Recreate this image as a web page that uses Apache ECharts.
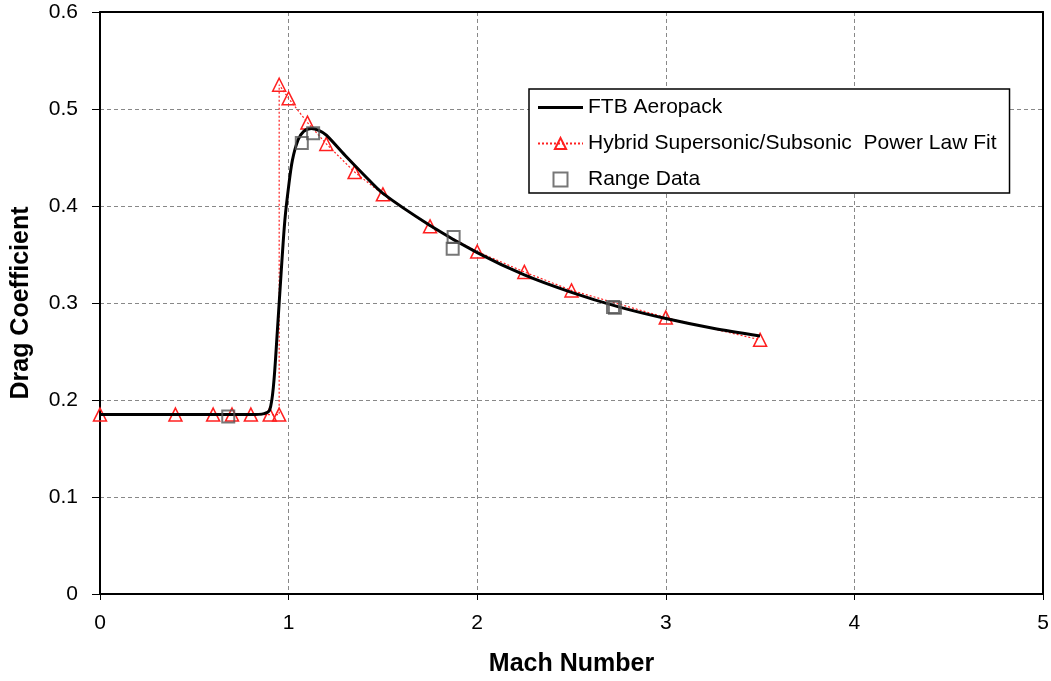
<!DOCTYPE html>
<html>
<head>
<meta charset="utf-8">
<script src="https://cdn.jsdelivr.net/npm/echarts@6/dist/echarts.min.js"></script>
<style>
html,body{margin:0;padding:0;background:#fff;}
#main{width:1051px;height:681px;}
</style>
</head>
<body>
<div id="main"></div>
<script>
// FTB Aeropack curve (Mach, Cd)
var ftbMach = [0, 0.5, 0.8, 0.87, 0.9, 0.92, 0.94, 0.96, 0.98, 1.0, 1.02, 1.05, 1.08, 1.12, 1.16, 1.2, 1.3, 1.4, 1.5, 1.75, 2.0, 2.25, 2.5, 2.75, 3.0, 3.25, 3.5];
var ftbCd   = [0.185, 0.185, 0.185, 0.186, 0.19, 0.215, 0.27, 0.33, 0.385, 0.42, 0.447, 0.468, 0.477, 0.48, 0.478, 0.473, 0.452, 0.432, 0.413, 0.38, 0.352, 0.329, 0.311, 0.296, 0.284, 0.274, 0.266];

// hybrid power law fit
var fitMach = [0, 0.4, 0.6, 0.7, 0.8, 0.9, 0.95, 0.95, 1.0, 1.1, 1.2, 1.35, 1.5, 1.75, 2.0, 2.25, 2.5, 3.0, 3.5];
var fitCd   = [0.185, 0.185, 0.185, 0.185, 0.185, 0.185, 0.185, 0.525, 0.511, 0.486, 0.464, 0.435, 0.412, 0.379, 0.353, 0.332, 0.313, 0.285, 0.262];

// range data
var rangeMach = [0.68, 1.07, 1.13, 1.875, 1.87, 2.72, 2.73];
var rangeCd   = [0.183, 0.465, 0.475, 0.368, 0.356, 0.296, 0.295];

var xTicks = [0, 1, 2, 3, 4, 5];
var yTicks = [0, 0.1, 0.2, 0.3, 0.4, 0.5, 0.6];

function pairs(xs, ys) {
    var out = [];
    for (var i = 0; i < xs.length; i++) out.push([xs[i], ys[i]]);
    return out;
}

var chart = echarts.init(document.getElementById('main'));
var font = 'Liberation Sans, Arial, sans-serif';
var gridDash = {show: true, lineStyle: {color: '#888', type: [4, 3], width: 1}};

var option = {
    backgroundColor: '#fff',
    animation: false,
    grid: {left: 100, right: 8, top: 12, bottom: 87, outerBoundsMode: 'none'},
    legend: {
        orient: 'vertical',
        left: 529, top: 89,
        padding: [8, 13, 3, 8],
        itemWidth: 45, itemHeight: 14, itemGap: 15,
        symbolKeepAspect: true,
        borderColor: '#000', borderWidth: 1.5, borderRadius: 0,
        backgroundColor: '#fff',
        textStyle: {fontFamily: font, fontSize: 21, color: '#000'},
        data: [
            {name: 'FTB Aeropack', icon: 'path://M0,0H45V3H0Z'},
            {name: 'Hybrid Supersonic/Subsonic  Power Law Fit'},
            {name: 'Range Data', icon: 'path://M0,0H10V10H0Z'}
        ]
    },
    xAxis: [{
        type: 'value', min: xTicks[0], max: xTicks[xTicks.length - 1], interval: 1,
        name: 'Mach Number', nameLocation: 'middle', nameGap: 58,
        nameTextStyle: {fontFamily: font, fontSize: 25, fontWeight: 'bold', color: '#000'},
        axisLine: {lineStyle: {color: '#000', width: 2}},
        axisTick: {show: true, length: 6, lineStyle: {color: '#000'}},
        axisLabel: {fontFamily: font, fontSize: 21, color: '#000', margin: 19},
        splitLine: gridDash
    }, {
        type: 'value', position: 'top', min: xTicks[0], max: xTicks[xTicks.length - 1], interval: 1,
        axisLine: {show: true, onZero: false, lineStyle: {color: '#000', width: 2}},
        axisTick: {show: false}, axisLabel: {show: false}, splitLine: {show: false}
    }],
    yAxis: [{
        type: 'value', min: yTicks[0], max: yTicks[yTicks.length - 1], interval: 0.1,
        name: 'Drag Coefficient', nameLocation: 'middle', nameGap: 66,
        nameTextStyle: {fontFamily: font, fontSize: 25, fontWeight: 'bold', color: '#000'},
        axisLine: {show: true, lineStyle: {color: '#000', width: 2}},
        axisTick: {show: true, length: 8, lineStyle: {color: '#000'}},
        axisLabel: {fontFamily: font, fontSize: 21, color: '#000', margin: 22,
            formatter: function (v) { return v === 0 ? '0' : v.toFixed(1); }},
        splitLine: gridDash
    }, {
        type: 'value', position: 'right', min: yTicks[0], max: yTicks[yTicks.length - 1], interval: 0.1,
        axisLine: {show: true, onZero: false, lineStyle: {color: '#000', width: 2}},
        axisTick: {show: false}, axisLabel: {show: false}, splitLine: {show: false}
    }],
    series: [
        {
            name: 'Hybrid Supersonic/Subsonic  Power Law Fit',
            type: 'line',
            data: pairs(fitMach, fitCd),
            symbol: 'triangle', symbolSize: 13,
            lineStyle: {color: '#ff2020', width: 1.2, type: [2, 2]},
            itemStyle: {color: 'rgba(255,255,255,0)', borderColor: '#ff2020', borderWidth: 1.5},
            z: 2
        },
        {
            name: 'FTB Aeropack',
            type: 'line',
            data: pairs(ftbMach, ftbCd),
            smooth: 0.3,
            showSymbol: false, symbol: 'none',
            lineStyle: {color: '#000', width: 3},
            itemStyle: {color: '#000'},
            z: 3
        },
        {
            name: 'Range Data',
            type: 'scatter',
            data: pairs(rangeMach, rangeCd),
            symbol: 'rect', symbolSize: 12,
            itemStyle: {color: 'rgba(255,255,255,0)', borderColor: '#555', borderWidth: 2},
            z: 4
        }
    ]
};

chart.setOption(option);
</script>
</body>
</html>
